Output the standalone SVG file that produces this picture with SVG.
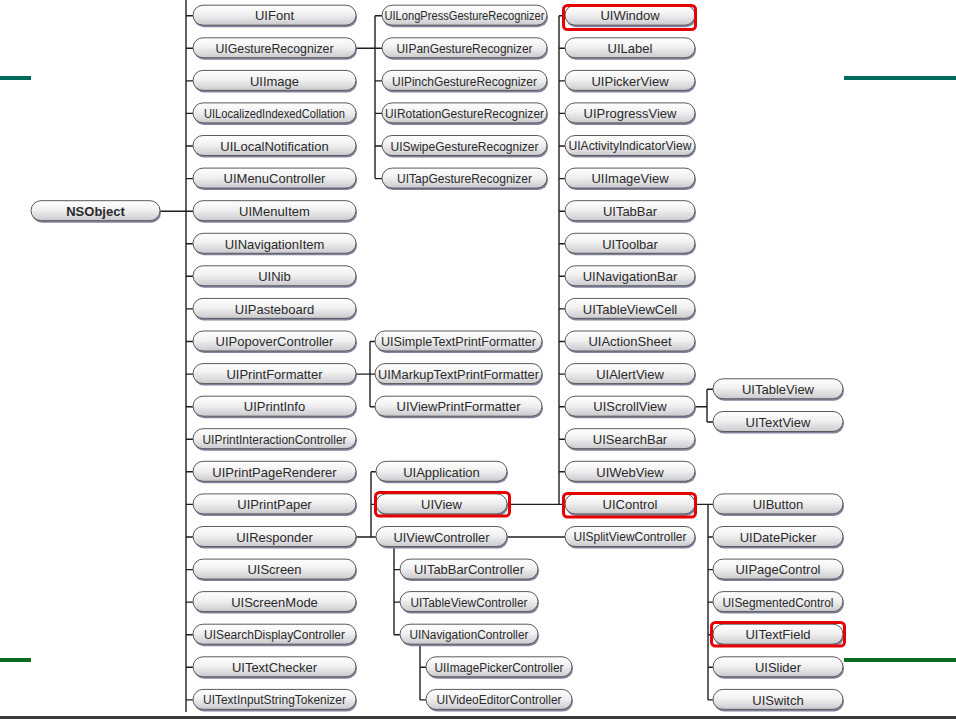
<svg xmlns="http://www.w3.org/2000/svg" width="956" height="719" viewBox="0 0 956 719">
<defs>
<linearGradient id="pg" x1="0" y1="0" x2="0" y2="1">
<stop offset="0" stop-color="#ffffff"/>
<stop offset="0.45" stop-color="#f1f1f1"/>
<stop offset="0.8" stop-color="#d9d9dc"/>
<stop offset="1" stop-color="#c9c9ce"/>
</linearGradient>
</defs>
<style>
.sh{fill:#80849f;}
.pill{fill:url(#pg);stroke:#5a5a5a;stroke-width:1;}
text{font-family:"Liberation Sans",Arial,sans-serif;font-size:13px;fill:#2a2a2a;text-anchor:middle;}
text.sm{font-size:12px;}
text.b{font-weight:bold;}
.conn{fill:none;stroke:#1e1e1e;stroke-width:1.4;}
.hl{fill:none;stroke:#e60000;stroke-width:3;}
</style>
<rect width="956" height="719" fill="#ffffff"/>
<rect x="0" y="76" width="31" height="4" fill="#006b5c"/>
<rect x="844" y="76" width="112" height="4" fill="#006b5c"/>
<rect x="0" y="658" width="31" height="4" fill="#0b6b1e"/>
<rect x="844" y="658" width="112" height="4" fill="#0b6b1e"/>
<rect x="0" y="716" width="956" height="3" fill="#3a3a3a"/>
<g id="connectors" class="conn">
<path d="M186,0V712M160,211.2H186"/>
<path d="M186,15.7H193M186,48.3H193M186,80.9H193M186,113.4H193M186,146H193M186,178.6H193M186,211.2H193M186,243.8H193M186,276.3H193M186,308.9H193M186,341.5H193M186,374.1H193M186,406.7H193M186,439.2H193M186,471.8H193M186,504.4H193M186,537H193M186,569.6H193M186,602.1H193M186,634.7H193M186,667.3H193M186,699.9H193"/>
<path d="M356,48.3H375M375,15.7V178.6M375,15.7H382M375,48.3H382M375,80.9H382M375,113.4H382M375,146H382M375,178.6H382"/>
<path d="M356,374.1H370M370,341.5V406.7M370,341.5H375M370,374.1H375M370,406.7H375"/>
<path d="M356,537H371M371,471.8V537M371,471.8H376M371,504.4H376M371,537H376"/>
<path d="M394,546.5V634.7M394,569.6H400M394,602.1H400M394,634.7H400"/>
<path d="M420,644V699.9M420,667.3H426M420,699.9H426"/>
<path d="M507,537H565"/>
<path d="M506,504.4H559M559,15.7V504.4M559,15.7H565M559,48.3H565M559,80.9H565M559,113.4H565M559,146H565M559,178.6H565M559,211.2H565M559,243.8H565M559,276.3H565M559,308.9H565M559,341.5H565M559,374.1H565M559,406.7H565M559,439.2H565M559,471.8H565M559,504.4H565"/>
<path d="M695,406.7H707M707,389.3V422M707,389.3H713M707,422H713"/>
<path d="M695,504.4H708M708,504.4V699.9M708,504.4H713M708,537H713M708,569.6H713M708,602.1H713M708,634.7H713M708,667.3H713M708,699.9H713"/>
</g>
<g id="NSObject" transform="translate(31,211.2)"><rect class="sh" x="1" y="-8.5" width="129" height="20" rx="10"/><rect class="pill" y="-10.5" width="129" height="20" rx="10"/><text class="b" x="64.5" y="4.7">NSObject</text></g>
<g id="UIFont" transform="translate(193,15.7)"><rect class="sh" x="1" y="-8.5" width="163" height="20" rx="10"/><rect class="pill" y="-10.5" width="163" height="20" rx="10"/><text x="81.5" y="4.7">UIFont</text></g>
<g id="UIGestureRecognizer" transform="translate(193,48.3)"><rect class="sh" x="1" y="-8.5" width="163" height="20" rx="10"/><rect class="pill" y="-10.5" width="163" height="20" rx="10"/><text x="81.5" y="4.7" textLength="118" lengthAdjust="spacingAndGlyphs">UIGestureRecognizer</text></g>
<g id="UIImage" transform="translate(193,80.9)"><rect class="sh" x="1" y="-8.5" width="163" height="20" rx="10"/><rect class="pill" y="-10.5" width="163" height="20" rx="10"/><text x="81.5" y="4.7">UIImage</text></g>
<g id="UILocalizedIndexedCollation" transform="translate(193,113.4)"><rect class="sh" x="1" y="-8.5" width="163" height="20" rx="10"/><rect class="pill" y="-10.5" width="163" height="20" rx="10"/><text class="sm" x="81.5" y="4.4" textLength="141" lengthAdjust="spacingAndGlyphs">UILocalizedIndexedCollation</text></g>
<g id="UILocalNotification" transform="translate(193,146)"><rect class="sh" x="1" y="-8.5" width="163" height="20" rx="10"/><rect class="pill" y="-10.5" width="163" height="20" rx="10"/><text x="81.5" y="4.7">UILocalNotification</text></g>
<g id="UIMenuController" transform="translate(193,178.6)"><rect class="sh" x="1" y="-8.5" width="163" height="20" rx="10"/><rect class="pill" y="-10.5" width="163" height="20" rx="10"/><text x="81.5" y="4.7">UIMenuController</text></g>
<g id="UIMenuItem" transform="translate(193,211.2)"><rect class="sh" x="1" y="-8.5" width="163" height="20" rx="10"/><rect class="pill" y="-10.5" width="163" height="20" rx="10"/><text x="81.5" y="4.7">UIMenuItem</text></g>
<g id="UINavigationItem" transform="translate(193,243.8)"><rect class="sh" x="1" y="-8.5" width="163" height="20" rx="10"/><rect class="pill" y="-10.5" width="163" height="20" rx="10"/><text x="81.5" y="4.7">UINavigationItem</text></g>
<g id="UINib" transform="translate(193,276.3)"><rect class="sh" x="1" y="-8.5" width="163" height="20" rx="10"/><rect class="pill" y="-10.5" width="163" height="20" rx="10"/><text x="81.5" y="4.7">UINib</text></g>
<g id="UIPasteboard" transform="translate(193,308.9)"><rect class="sh" x="1" y="-8.5" width="163" height="20" rx="10"/><rect class="pill" y="-10.5" width="163" height="20" rx="10"/><text x="81.5" y="4.7">UIPasteboard</text></g>
<g id="UIPopoverController" transform="translate(193,341.5)"><rect class="sh" x="1" y="-8.5" width="163" height="20" rx="10"/><rect class="pill" y="-10.5" width="163" height="20" rx="10"/><text x="81.5" y="4.7">UIPopoverController</text></g>
<g id="UIPrintFormatter" transform="translate(193,374.1)"><rect class="sh" x="1" y="-8.5" width="163" height="20" rx="10"/><rect class="pill" y="-10.5" width="163" height="20" rx="10"/><text x="81.5" y="4.7">UIPrintFormatter</text></g>
<g id="UIPrintInfo" transform="translate(193,406.7)"><rect class="sh" x="1" y="-8.5" width="163" height="20" rx="10"/><rect class="pill" y="-10.5" width="163" height="20" rx="10"/><text x="81.5" y="4.7">UIPrintInfo</text></g>
<g id="UIPrintInteractionController" transform="translate(193,439.2)"><rect class="sh" x="1" y="-8.5" width="163" height="20" rx="10"/><rect class="pill" y="-10.5" width="163" height="20" rx="10"/><text class="sm" x="81.5" y="4.4" textLength="144" lengthAdjust="spacingAndGlyphs">UIPrintInteractionController</text></g>
<g id="UIPrintPageRenderer" transform="translate(193,471.8)"><rect class="sh" x="1" y="-8.5" width="163" height="20" rx="10"/><rect class="pill" y="-10.5" width="163" height="20" rx="10"/><text x="81.5" y="4.7">UIPrintPageRenderer</text></g>
<g id="UIPrintPaper" transform="translate(193,504.4)"><rect class="sh" x="1" y="-8.5" width="163" height="20" rx="10"/><rect class="pill" y="-10.5" width="163" height="20" rx="10"/><text x="81.5" y="4.7">UIPrintPaper</text></g>
<g id="UIResponder" transform="translate(193,537)"><rect class="sh" x="1" y="-8.5" width="163" height="20" rx="10"/><rect class="pill" y="-10.5" width="163" height="20" rx="10"/><text x="81.5" y="4.7">UIResponder</text></g>
<g id="UIScreen" transform="translate(193,569.6)"><rect class="sh" x="1" y="-8.5" width="163" height="20" rx="10"/><rect class="pill" y="-10.5" width="163" height="20" rx="10"/><text x="81.5" y="4.7">UIScreen</text></g>
<g id="UIScreenMode" transform="translate(193,602.1)"><rect class="sh" x="1" y="-8.5" width="163" height="20" rx="10"/><rect class="pill" y="-10.5" width="163" height="20" rx="10"/><text x="81.5" y="4.7">UIScreenMode</text></g>
<g id="UISearchDisplayController" transform="translate(193,634.7)"><rect class="sh" x="1" y="-8.5" width="163" height="20" rx="10"/><rect class="pill" y="-10.5" width="163" height="20" rx="10"/><text class="sm" x="81.5" y="4.4" textLength="141" lengthAdjust="spacingAndGlyphs">UISearchDisplayController</text></g>
<g id="UITextChecker" transform="translate(193,667.3)"><rect class="sh" x="1" y="-8.5" width="163" height="20" rx="10"/><rect class="pill" y="-10.5" width="163" height="20" rx="10"/><text x="81.5" y="4.7">UITextChecker</text></g>
<g id="UITextInputStringTokenizer" transform="translate(193,699.9)"><rect class="sh" x="1" y="-8.5" width="163" height="20" rx="10"/><rect class="pill" y="-10.5" width="163" height="20" rx="10"/><text class="sm" x="81.5" y="4.4" textLength="143" lengthAdjust="spacingAndGlyphs">UITextInputStringTokenizer</text></g>
<g id="UILongPressGestureRecognizer" transform="translate(382,15.7)"><rect class="sh" x="1" y="-8.5" width="165" height="20" rx="10"/><rect class="pill" y="-10.5" width="165" height="20" rx="10"/><text class="sm" x="82.5" y="4.4" textLength="160" lengthAdjust="spacingAndGlyphs">UILongPressGestureRecognizer</text></g>
<g id="UIPanGestureRecognizer" transform="translate(382,48.3)"><rect class="sh" x="1" y="-8.5" width="165" height="20" rx="10"/><rect class="pill" y="-10.5" width="165" height="20" rx="10"/><text x="82.5" y="4.7" textLength="136" lengthAdjust="spacingAndGlyphs">UIPanGestureRecognizer</text></g>
<g id="UIPinchGestureRecognizer" transform="translate(382,80.9)"><rect class="sh" x="1" y="-8.5" width="165" height="20" rx="10"/><rect class="pill" y="-10.5" width="165" height="20" rx="10"/><text x="82.5" y="4.7" textLength="145" lengthAdjust="spacingAndGlyphs">UIPinchGestureRecognizer</text></g>
<g id="UIRotationGestureRecognizer" transform="translate(382,113.4)"><rect class="sh" x="1" y="-8.5" width="165" height="20" rx="10"/><rect class="pill" y="-10.5" width="165" height="20" rx="10"/><text class="sm" x="82.5" y="4.4" textLength="159" lengthAdjust="spacingAndGlyphs">UIRotationGestureRecognizer</text></g>
<g id="UISwipeGestureRecognizer" transform="translate(382,146)"><rect class="sh" x="1" y="-8.5" width="165" height="20" rx="10"/><rect class="pill" y="-10.5" width="165" height="20" rx="10"/><text x="82.5" y="4.7" textLength="148" lengthAdjust="spacingAndGlyphs">UISwipeGestureRecognizer</text></g>
<g id="UITapGestureRecognizer" transform="translate(382,178.6)"><rect class="sh" x="1" y="-8.5" width="165" height="20" rx="10"/><rect class="pill" y="-10.5" width="165" height="20" rx="10"/><text x="82.5" y="4.7" textLength="135" lengthAdjust="spacingAndGlyphs">UITapGestureRecognizer</text></g>
<g id="UISimpleTextPrintFormatter" transform="translate(375,341.5)"><rect class="sh" x="1" y="-8.5" width="167" height="20" rx="10"/><rect class="pill" y="-10.5" width="167" height="20" rx="10"/><text class="sm" x="83.5" y="4.4" textLength="155" lengthAdjust="spacingAndGlyphs">UISimpleTextPrintFormatter</text></g>
<g id="UIMarkupTextPrintFormatter" transform="translate(375,374.1)"><rect class="sh" x="1" y="-8.5" width="167" height="20" rx="10"/><rect class="pill" y="-10.5" width="167" height="20" rx="10"/><text class="sm" x="83.5" y="4.4" textLength="161" lengthAdjust="spacingAndGlyphs">UIMarkupTextPrintFormatter</text></g>
<g id="UIViewPrintFormatter" transform="translate(375,406.7)"><rect class="sh" x="1" y="-8.5" width="167" height="20" rx="10"/><rect class="pill" y="-10.5" width="167" height="20" rx="10"/><text x="83.5" y="4.7" textLength="124" lengthAdjust="spacingAndGlyphs">UIViewPrintFormatter</text></g>
<g id="UIApplication" transform="translate(376,471.8)"><rect class="sh" x="1" y="-8.5" width="131" height="20" rx="10"/><rect class="pill" y="-10.5" width="131" height="20" rx="10"/><text x="65.5" y="4.7">UIApplication</text></g>
<g id="UIView" transform="translate(376,504.4)"><rect class="sh" x="1" y="-8.5" width="131" height="20" rx="10"/><rect class="pill" y="-10.5" width="131" height="20" rx="10"/><text x="65.5" y="4.7">UIView</text></g>
<g id="UIViewController" transform="translate(376,537)"><rect class="sh" x="1" y="-8.5" width="131" height="20" rx="10"/><rect class="pill" y="-10.5" width="131" height="20" rx="10"/><text x="65.5" y="4.7" textLength="96" lengthAdjust="spacingAndGlyphs">UIViewController</text></g>
<g id="UITabBarController" transform="translate(400,569.6)"><rect class="sh" x="1" y="-8.5" width="138" height="20" rx="10"/><rect class="pill" y="-10.5" width="138" height="20" rx="10"/><text x="69" y="4.7" textLength="110" lengthAdjust="spacingAndGlyphs">UITabBarController</text></g>
<g id="UITableViewController" transform="translate(400,602.1)"><rect class="sh" x="1" y="-8.5" width="138" height="20" rx="10"/><rect class="pill" y="-10.5" width="138" height="20" rx="10"/><text class="sm" x="69" y="4.4" textLength="117" lengthAdjust="spacingAndGlyphs">UITableViewController</text></g>
<g id="UINavigationController" transform="translate(400,634.7)"><rect class="sh" x="1" y="-8.5" width="138" height="20" rx="10"/><rect class="pill" y="-10.5" width="138" height="20" rx="10"/><text class="sm" x="69" y="4.4" textLength="119" lengthAdjust="spacingAndGlyphs">UINavigationController</text></g>
<g id="UIImagePickerController" transform="translate(426,667.3)"><rect class="sh" x="1" y="-8.5" width="146" height="20" rx="10"/><rect class="pill" y="-10.5" width="146" height="20" rx="10"/><text class="sm" x="73" y="4.4" textLength="129" lengthAdjust="spacingAndGlyphs">UIImagePickerController</text></g>
<g id="UIVideoEditorController" transform="translate(426,699.9)"><rect class="sh" x="1" y="-8.5" width="146" height="20" rx="10"/><rect class="pill" y="-10.5" width="146" height="20" rx="10"/><text class="sm" x="73" y="4.4" textLength="125" lengthAdjust="spacingAndGlyphs">UIVideoEditorController</text></g>
<g id="UIWindow" transform="translate(565,15.7)"><rect class="sh" x="1" y="-8.5" width="130" height="20" rx="10"/><rect class="pill" y="-10.5" width="130" height="20" rx="10"/><text x="65" y="4.7">UIWindow</text></g>
<g id="UILabel" transform="translate(565,48.3)"><rect class="sh" x="1" y="-8.5" width="130" height="20" rx="10"/><rect class="pill" y="-10.5" width="130" height="20" rx="10"/><text x="65" y="4.7">UILabel</text></g>
<g id="UIPickerView" transform="translate(565,80.9)"><rect class="sh" x="1" y="-8.5" width="130" height="20" rx="10"/><rect class="pill" y="-10.5" width="130" height="20" rx="10"/><text x="65" y="4.7">UIPickerView</text></g>
<g id="UIProgressView" transform="translate(565,113.4)"><rect class="sh" x="1" y="-8.5" width="130" height="20" rx="10"/><rect class="pill" y="-10.5" width="130" height="20" rx="10"/><text x="65" y="4.7">UIProgressView</text></g>
<g id="UIActivityIndicatorView" transform="translate(565,146)"><rect class="sh" x="1" y="-8.5" width="130" height="20" rx="10"/><rect class="pill" y="-10.5" width="130" height="20" rx="10"/><text class="sm" x="65" y="4.4" textLength="123" lengthAdjust="spacingAndGlyphs">UIActivityIndicatorView</text></g>
<g id="UIImageView" transform="translate(565,178.6)"><rect class="sh" x="1" y="-8.5" width="130" height="20" rx="10"/><rect class="pill" y="-10.5" width="130" height="20" rx="10"/><text x="65" y="4.7">UIImageView</text></g>
<g id="UITabBar" transform="translate(565,211.2)"><rect class="sh" x="1" y="-8.5" width="130" height="20" rx="10"/><rect class="pill" y="-10.5" width="130" height="20" rx="10"/><text x="65" y="4.7">UITabBar</text></g>
<g id="UIToolbar" transform="translate(565,243.8)"><rect class="sh" x="1" y="-8.5" width="130" height="20" rx="10"/><rect class="pill" y="-10.5" width="130" height="20" rx="10"/><text x="65" y="4.7">UIToolbar</text></g>
<g id="UINavigationBar" transform="translate(565,276.3)"><rect class="sh" x="1" y="-8.5" width="130" height="20" rx="10"/><rect class="pill" y="-10.5" width="130" height="20" rx="10"/><text x="65" y="4.7">UINavigationBar</text></g>
<g id="UITableViewCell" transform="translate(565,308.9)"><rect class="sh" x="1" y="-8.5" width="130" height="20" rx="10"/><rect class="pill" y="-10.5" width="130" height="20" rx="10"/><text x="65" y="4.7">UITableViewCell</text></g>
<g id="UIActionSheet" transform="translate(565,341.5)"><rect class="sh" x="1" y="-8.5" width="130" height="20" rx="10"/><rect class="pill" y="-10.5" width="130" height="20" rx="10"/><text x="65" y="4.7">UIActionSheet</text></g>
<g id="UIAlertView" transform="translate(565,374.1)"><rect class="sh" x="1" y="-8.5" width="130" height="20" rx="10"/><rect class="pill" y="-10.5" width="130" height="20" rx="10"/><text x="65" y="4.7">UIAlertView</text></g>
<g id="UIScrollView" transform="translate(565,406.7)"><rect class="sh" x="1" y="-8.5" width="130" height="20" rx="10"/><rect class="pill" y="-10.5" width="130" height="20" rx="10"/><text x="65" y="4.7">UIScrollView</text></g>
<g id="UISearchBar" transform="translate(565,439.2)"><rect class="sh" x="1" y="-8.5" width="130" height="20" rx="10"/><rect class="pill" y="-10.5" width="130" height="20" rx="10"/><text x="65" y="4.7">UISearchBar</text></g>
<g id="UIWebView" transform="translate(565,471.8)"><rect class="sh" x="1" y="-8.5" width="130" height="20" rx="10"/><rect class="pill" y="-10.5" width="130" height="20" rx="10"/><text x="65" y="4.7">UIWebView</text></g>
<g id="UIControl" transform="translate(565,504.4)"><rect class="sh" x="1" y="-8.5" width="130" height="20" rx="10"/><rect class="pill" y="-10.5" width="130" height="20" rx="10"/><text x="65" y="4.7">UIControl</text></g>
<g id="UISplitViewController" transform="translate(565,537)"><rect class="sh" x="1" y="-8.5" width="130" height="20" rx="10"/><rect class="pill" y="-10.5" width="130" height="20" rx="10"/><text class="sm" x="65" y="4.4" textLength="113" lengthAdjust="spacingAndGlyphs">UISplitViewController</text></g>
<g id="UITableView" transform="translate(713,389.3)"><rect class="sh" x="1" y="-8.5" width="130" height="20" rx="10"/><rect class="pill" y="-10.5" width="130" height="20" rx="10"/><text x="65" y="4.7">UITableView</text></g>
<g id="UITextView" transform="translate(713,422)"><rect class="sh" x="1" y="-8.5" width="130" height="20" rx="10"/><rect class="pill" y="-10.5" width="130" height="20" rx="10"/><text x="65" y="4.7">UITextView</text></g>
<g id="UIButton" transform="translate(713,504.4)"><rect class="sh" x="1" y="-8.5" width="130" height="20" rx="10"/><rect class="pill" y="-10.5" width="130" height="20" rx="10"/><text x="65" y="4.7">UIButton</text></g>
<g id="UIDatePicker" transform="translate(713,537)"><rect class="sh" x="1" y="-8.5" width="130" height="20" rx="10"/><rect class="pill" y="-10.5" width="130" height="20" rx="10"/><text x="65" y="4.7">UIDatePicker</text></g>
<g id="UIPageControl" transform="translate(713,569.6)"><rect class="sh" x="1" y="-8.5" width="130" height="20" rx="10"/><rect class="pill" y="-10.5" width="130" height="20" rx="10"/><text x="65" y="4.7" textLength="85" lengthAdjust="spacingAndGlyphs">UIPageControl</text></g>
<g id="UISegmentedControl" transform="translate(713,602.1)"><rect class="sh" x="1" y="-8.5" width="130" height="20" rx="10"/><rect class="pill" y="-10.5" width="130" height="20" rx="10"/><text x="65" y="4.7" textLength="111" lengthAdjust="spacingAndGlyphs">UISegmentedControl</text></g>
<g id="UITextField" transform="translate(713,634.7)"><rect class="sh" x="1" y="-8.5" width="130" height="20" rx="10"/><rect class="pill" y="-10.5" width="130" height="20" rx="10"/><text x="65" y="4.7">UITextField</text></g>
<g id="UISlider" transform="translate(713,667.3)"><rect class="sh" x="1" y="-8.5" width="130" height="20" rx="10"/><rect class="pill" y="-10.5" width="130" height="20" rx="10"/><text x="65" y="4.7">UISlider</text></g>
<g id="UISwitch" transform="translate(713,699.9)"><rect class="sh" x="1" y="-8.5" width="130" height="20" rx="10"/><rect class="pill" y="-10.5" width="130" height="20" rx="10"/><text x="65" y="4.7">UISwitch</text></g>
<g id="highlights" class="hl">
<rect x="563.5" y="5.5" width="132" height="24" rx="4"/>
<rect x="375.5" y="492.5" width="134" height="23.5" rx="4"/>
<rect x="563.5" y="493.5" width="132" height="23.5" rx="4"/>
<rect x="711.5" y="622.5" width="133" height="23.5" rx="4"/>
</g>
</svg>
